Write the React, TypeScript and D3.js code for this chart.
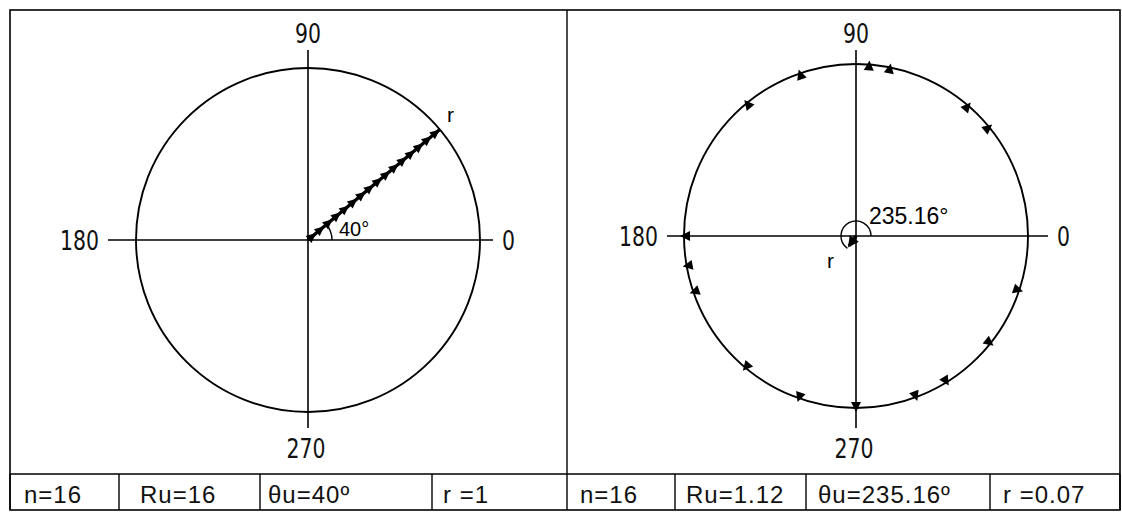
import React from "react";
import * as d3 from "d3";

// ---- data ----
const axisLabels = ["0", "90", "180", "270"];
const leftAngles = [40, 40, 40, 40, 40, 40, 40, 40, 40, 40, 40, 40, 40, 40, 40, 40];
const rightAngles = [39.3, 49.3, 78.6, 85.6, 109, 129.4, 180, 190, 199, 230, 250.6, 270, 290.4, 301.8, 321.4, 341.6];
const leftResultant = { angle: 40, r: 1 };
const rightResultant = { angle: 235.16, r: 0.07 };
const leftAngleLabel = "40°";
const rightAngleLabel = "235.16°";
const leftStats = ["n=16", "Ru=16", "θu=40º", "r =1"];
const rightStats = ["n=16", "Ru=1.12", "θu=235.16º", "r =0.07"];

const W = 1122;
const H = 512;
const AX_FONT = "'DejaVu Sans Condensed', 'DejaVu Sans', sans-serif";
const TXT_FONT = "'Liberation Sans', Arial, sans-serif";

type PanelCfg = {
  cx: number;
  cy: number;
  R: number;
  hx0: number;
  hx1: number;
  vy0: number;
  vy1: number;
};

function pt(cx: number, cy: number, r: number, deg: number): [number, number] {
  const a = (deg * Math.PI) / 180;
  return [cx + r * Math.cos(a), cy - r * Math.sin(a)];
}

function tri(cx: number, cy: number, tipR: number, len: number, half: number, deg: number): string {
  const a = (deg * Math.PI) / 180;
  const ux = Math.cos(a), uy = -Math.sin(a);
  const px = -uy, py = ux;
  const tx = cx + tipR * ux, ty = cy + tipR * uy;
  const bx = tx - len * ux, by = ty - len * uy;
  return `M${tx},${ty}L${bx + half * px},${by + half * py}L${bx - half * px},${by - half * py}Z`;
}

function Axes({ c }: { c: PanelCfg }) {
  return (
    <g stroke="#000" strokeWidth={1.6} fill="none">
      <line x1={c.hx0} y1={c.cy} x2={c.hx1} y2={c.cy} />
      <line x1={c.cx} y1={c.vy0} x2={c.cx} y2={c.vy1} />
      <circle cx={c.cx} cy={c.cy} r={c.R} strokeWidth={1.9} />
    </g>
  );
}

const DIGIT_W = 13;

function NarrowText({ x, y, anchor, s }: { x: number; y: number; anchor: "start" | "middle" | "end"; s: string }) {
  return (
    <text
      x={x}
      y={y}
      textAnchor={anchor}
      textLength={s.length * DIGIT_W}
      lengthAdjust="spacingAndGlyphs"
      style={{ fontFamily: AX_FONT, fontSize: 27, fill: "#111" }}
    >
      {s}
    </text>
  );
}

function AxisText({ c, dy }: { c: PanelCfg; dy: number }) {
  return (
    <g>
      <NarrowText x={c.hx1 + 9} y={c.cy + dy} anchor="start" s={axisLabels[0]} />
      <NarrowText x={c.cx} y={43} anchor="middle" s={axisLabels[1]} />
      <NarrowText x={c.hx0 - 9} y={c.cy + dy} anchor="end" s={axisLabels[2]} />
      <NarrowText x={c.cx - 2} y={458} anchor="middle" s={axisLabels[3]} />
    </g>
  );
}

function LeftPanel() {
  const c: PanelCfg = { cx: 308, cy: 240, R: 172, hx0: 108, hx1: 493, vy0: 50, vy1: 428 };
  const rs = d3.scaleLinear().domain([0, 1]).range([0, c.R]);
  // head-to-tail sum of unit vectors
  let sx = 0, sy = 0;
  const n = leftAngles.length;
  const heads = leftAngles.map((a) => {
    sx += Math.cos((a * Math.PI) / 180) / n;
    sy += Math.sin((a * Math.PI) / 180) / n;
    return { r: Math.hypot(sx, sy), a: (Math.atan2(sy, sx) * 180) / Math.PI };
  });
  const end = pt(c.cx, c.cy, rs(leftResultant.r), leftResultant.angle);
  const arcP = d3.path();
  arcP.arc(c.cx, c.cy, 24, 0, (-leftResultant.angle * Math.PI) / 180, true);
  const lbl = pt(c.cx, c.cy, rs(leftResultant.r) + 8, leftResultant.angle);
  return (
    <g>
      <Axes c={c} />
      <AxisText c={c} dy={10} />
      <line x1={c.cx} y1={c.cy} x2={end[0]} y2={end[1]} stroke="#000" strokeWidth={3.4} />
      {heads.map((h, i) => (
        <path key={i} d={tri(c.cx, c.cy, rs(h.r), 10, 4.5, h.a)} fill="#000" />
      ))}
      <path d={arcP.toString()} fill="none" stroke="#000" strokeWidth={1.4} />
      <text x={c.cx + 31} y={c.cy - 4} style={{ fontFamily: TXT_FONT, fontSize: 20 }}>{leftAngleLabel}</text>
      <text x={lbl[0] + 1} y={lbl[1] - 2} style={{ fontFamily: TXT_FONT, fontSize: 21 }}>r</text>
    </g>
  );
}

function RightPanel() {
  const c: PanelCfg = { cx: 856, cy: 236, R: 172, hx0: 667, hx1: 1048, vy0: 50, vy1: 428 };
  const rs = d3.scaleLinear().domain([0, 1]).range([0, c.R]);
  const arcP = d3.path();
  arcP.arc(c.cx, c.cy, 15, 0, (-rightResultant.angle * Math.PI) / 180, true);
  const rLen = Math.max(rs(rightResultant.r), 12);
  const rEnd = pt(c.cx, c.cy, rLen, rightResultant.angle);
  return (
    <g>
      <Axes c={c} />
      <AxisText c={c} dy={10} />
      {rightAngles.map((a, i) => (
        <path key={i} d={tri(c.cx, c.cy, c.R + 4, 10, 5, a)} fill="#000" />
      ))}
      <path d={arcP.toString()} fill="none" stroke="#000" strokeWidth={1.4} />
      <line x1={c.cx} y1={c.cy} x2={rEnd[0]} y2={rEnd[1]} stroke="#000" strokeWidth={3.4} />
      <path d={tri(c.cx, c.cy, rLen + 2, 11, 5.5, rightResultant.angle)} fill="#000" />
      <text x={c.cx + 13} y={c.cy - 12} style={{ fontFamily: TXT_FONT, fontSize: 23 }}>{rightAngleLabel}</text>
      <text x={rEnd[0] - 22} y={rEnd[1] + 22} style={{ fontFamily: TXT_FONT, fontSize: 21 }}>r</text>
    </g>
  );
}

const leftCols = [10, 119, 260, 432, 567];
const rightCols = [567, 675, 806, 990, 1120];
const leftTextX = [24, 140, 268, 443];
const rightTextX = [580, 686, 818, 1003];

function Table() {
  const y0 = 474, y1 = 510;
  const cols = [...leftCols, ...rightCols.slice(1)];
  return (
    <g>
      <line x1={10} y1={y0} x2={1120} y2={y0} stroke="#000" strokeWidth={1.6} />
      {cols.map((x, i) => (
        <line key={i} x1={x} y1={y0} x2={x} y2={y1} stroke="#000" strokeWidth={1.4} />
      ))}
      <g style={{ fontFamily: TXT_FONT, fontSize: 24, letterSpacing: 1 }} fill="#111">
        {leftStats.map((s, i) => (
          <text key={"l" + i} x={leftTextX[i]} y={503}>{s}</text>
        ))}
        {rightStats.map((s, i) => (
          <text key={"r" + i} x={rightTextX[i]} y={503}>{s}</text>
        ))}
      </g>
    </g>
  );
}

export default function App() {
  return (
    <svg
      width={W}
      height={H}
      viewBox={`0 0 ${W} ${H}`}
      style={{ position: "absolute", left: 0, top: 0, background: "#fff" }}
    >
      <rect x={0} y={0} width={W} height={H} fill="#fff" />
      <rect x={10} y={10} width={1110} height={500} fill="none" stroke="#000" strokeWidth={1.6} />
      <line x1={567} y1={10} x2={567} y2={474} stroke="#000" strokeWidth={1.4} />
      <LeftPanel />
      <RightPanel />
      <Table />
    </svg>
  );
}
